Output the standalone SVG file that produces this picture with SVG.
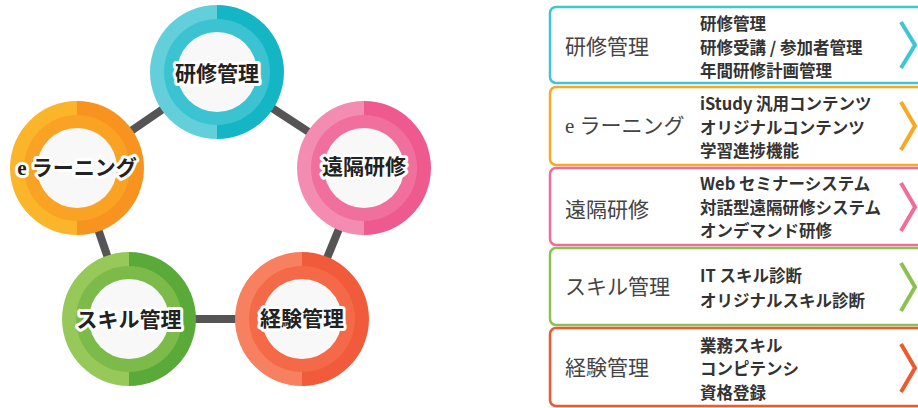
<svg xmlns="http://www.w3.org/2000/svg" width="918" height="408" viewBox="0 0 918 408">
<style>
.conn{stroke:#555;stroke-width:8;fill:none}
.ctext{font-family:"Liberation Serif","Noto Sans CJK JP",serif;font-size:21px;font-weight:bold;fill:#222;stroke:#fff;stroke-width:6;stroke-linejoin:round;paint-order:stroke;text-anchor:middle;dominant-baseline:central}
.inner{fill:#f8f8f8}
.box{fill:#fff;stroke-width:2.5}
.chev{fill:none;stroke-width:4;stroke-linejoin:miter}
.blabel{font-family:"Liberation Serif","Noto Sans CJK JP",serif;font-size:21px;fill:#444;dominant-baseline:central}
.item{font-family:"Noto Sans CJK JP","Noto Sans",sans-serif;font-size:16.5px;font-weight:bold;fill:#333;dominant-baseline:central}
</style>
<rect width="918" height="408" fill="#fff"/>
<g id="connectors">
<line class="conn" x1="217" y1="72" x2="77" y2="168"/>
<line class="conn" x1="217" y1="72" x2="364" y2="168"/>
<line class="conn" x1="77" y1="168" x2="129" y2="319"/>
<line class="conn" x1="364" y1="168" x2="302" y2="319"/>
<line class="conn" x1="129" y1="319" x2="302" y2="319"/>
</g>
<g id="c-kenshu">
<path d="M217 5 A67 67 0 0 0 217 139 Z" fill="#63cfdb"/>
<path d="M217 5 A67 67 0 0 1 217 139 Z" fill="#14b6c6"/>
<circle cx="217" cy="72" r="53" fill="#3cc3d2"/>
<circle class="inner" cx="217" cy="72" r="40"/>
<text class="ctext" x="217" y="74">研修管理</text>
</g>
<g id="c-elearning">
<path d="M77 101 A67 67 0 0 0 77 235 Z" fill="#fbb52a"/>
<path d="M77 101 A67 67 0 0 1 77 235 Z" fill="#f7931e"/>
<circle cx="77" cy="168" r="53" fill="#f9a224"/>
<circle class="inner" cx="77" cy="168" r="40"/>
<text class="ctext" x="77" y="168">e ラーニング</text>
</g>
<g id="c-enkaku">
<path d="M364 101 A67 67 0 0 0 364 235 Z" fill="#f48cb1"/>
<path d="M364 101 A67 67 0 0 1 364 235 Z" fill="#ee5a8d"/>
<circle cx="364" cy="168" r="53" fill="#f16f9d"/>
<circle class="inner" cx="364" cy="168" r="40"/>
<text class="ctext" x="364" y="167">遠隔研修</text>
</g>
<g id="c-skill">
<path d="M129 252 A67 67 0 0 0 129 386 Z" fill="#96c95a"/>
<path d="M129 252 A67 67 0 0 1 129 386 Z" fill="#5aaa3a"/>
<circle cx="129" cy="319" r="53" fill="#7cba4a"/>
<circle class="inner" cx="129" cy="319" r="40"/>
<text class="ctext" x="129" y="320">スキル管理</text>
</g>
<g id="c-keiken">
<path d="M302 252 A67 67 0 0 0 302 386 Z" fill="#f78060"/>
<path d="M302 252 A67 67 0 0 1 302 386 Z" fill="#f15a3a"/>
<circle cx="302" cy="319" r="53" fill="#f46a48"/>
<circle class="inner" cx="302" cy="319" r="40"/>
<text class="ctext" x="302" y="319">経験管理</text>
</g>
<g id="b-kenshu">
<rect class="box" x="550" y="7" width="380" height="76" rx="6" stroke="#3cc6d6"/>
<text class="blabel" x="565" y="47">研修管理</text>
<text class="item" x="700" y="23">研修管理</text>
<text class="item" x="700" y="47">研修受講 / 参加者管理</text>
<text class="item" x="700" y="70">年間研修計画管理</text>
<polyline class="chev" points="901,22 915,45 901,68" stroke="#3cc6d6"/>
</g>
<g id="b-elearning">
<rect class="box" x="550" y="87" width="380" height="78" rx="6" stroke="#f9a825"/>
<text class="blabel" x="565" y="126">e ラーニング</text>
<text class="item" x="700" y="103">iStudy 汎用コンテンツ</text>
<text class="item" x="700" y="127">オリジナルコンテンツ</text>
<text class="item" x="700" y="150">学習進捗機能</text>
<polyline class="chev" points="901,102 915,126 901,150" stroke="#f9a825"/>
</g>
<g id="b-enkaku">
<rect class="box" x="550" y="168" width="380" height="77" rx="6" stroke="#f06d9a"/>
<text class="blabel" x="565" y="210">遠隔研修</text>
<text class="item" x="700" y="183">Web セミナーシステム</text>
<text class="item" x="700" y="207">対話型遠隔研修システム</text>
<text class="item" x="700" y="230">オンデマンド研修</text>
<polyline class="chev" points="901,183 915,207 901,231" stroke="#f06d9a"/>
</g>
<g id="b-skill">
<rect class="box" x="550" y="248" width="380" height="77" rx="6" stroke="#8cc152"/>
<text class="blabel" x="565" y="287">スキル管理</text>
<text class="item" x="700" y="275">IT スキル診断</text>
<text class="item" x="700" y="300">オリジナルスキル診断</text>
<polyline class="chev" points="901,263 915,287 901,311" stroke="#8cc152"/>
</g>
<g id="b-keiken">
<rect class="box" x="550" y="328" width="380" height="78" rx="6" stroke="#ee5a30"/>
<text class="blabel" x="565" y="368">経験管理</text>
<text class="item" x="700" y="345">業務スキル</text>
<text class="item" x="700" y="368">コンピテンシ</text>
<text class="item" x="700" y="392">資格登録</text>
<polyline class="chev" points="901,344 915,368 901,392" stroke="#ee5a30"/>
</g>
</svg>
